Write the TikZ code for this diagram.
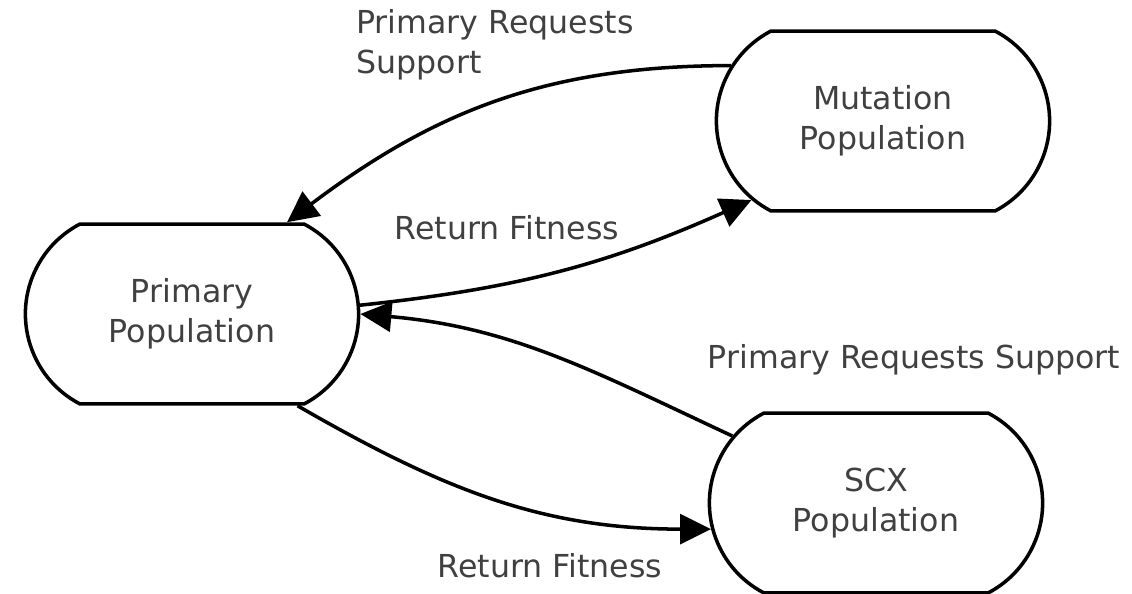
\documentclass[tikz,border=0pt]{standalone}
\usepackage{fontspec}
\setmainfont{DejaVu Sans}
\usepackage{tikz}
\usetikzlibrary{shapes.misc, arrows.meta}

\tikzset{
  pop/.style={draw, rounded rectangle, rounded rectangle arc length=125,
    line width=2pt, minimum width=6.9cm, minimum height=3.6cm,
    align=center, text=black!75},
  lbl/.style={text=black!75, align=left, inner sep=0pt},
  flow/.style={line width=2pt, -{Triangle[length=0.62cm, width=0.6cm]}}
}

\begin{document}
\begin{tikzpicture}[x=0.02cm, y=-0.02cm, font=\fontsize{18}{22.8}\selectfont]
        \useasboundingbox (0,0) rectangle (1132,594);

        % Populations
        \node [pop] (prim) at (192,314) {Primary\\Population};
        \node [pop] (mut) at (883,121) {Mutation\\Population};
        \node [pop] (scx) at (876,503) {SCX\\Population};

        % Primary and mutation
        \draw [flow] (mut.160) to [out=180, in=37] (prim.44);
        \draw [flow] (prim.3) to [out=6, in=204] (mut.211);

        % Primary and SCX
        \draw [flow] (scx.155) to [out=155, in=355] (prim.0);
        \draw [flow] (prim.-41) to [out=-30, in=180] (scx.189);

        % Annotations
        \node [lbl, anchor=west] (reqmut) at (356,45) {Primary Requests\\Support};
        \node [lbl] (retmut) at (507,228) {Return Fitness};
        \node [lbl] (reqscx) at (914,360) {Primary Requests Support};
        \node [lbl] (retscx) at (550,566) {Return Fitness};
\end{tikzpicture}
\end{document}
